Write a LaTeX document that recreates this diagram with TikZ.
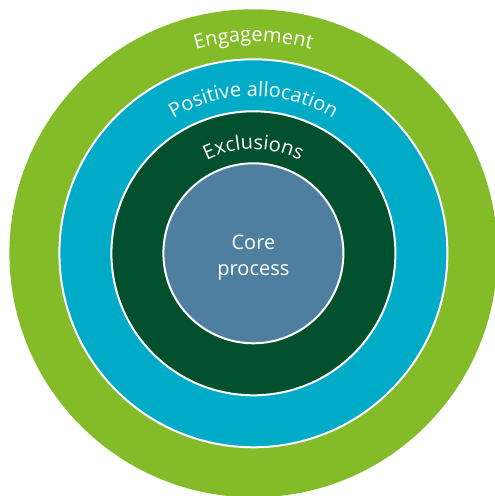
\documentclass[tikz,border=0pt]{standalone}
\usepackage{fontspec}
\setmainfont{Open Sans}
\usetikzlibrary{calc,decorations.text}

\definecolor{ringgreen}{RGB}{132,187,41}
\definecolor{ringblue}{RGB}{0,171,200}
\definecolor{ringdark}{RGB}{2,80,46}
\definecolor{coreblue}{RGB}{79,127,159}

\newcommand{\ringfont}{\fontsize{20}{26}\selectfont}

\begin{document}
\begin{tikzpicture}[x=1pt,y=1pt,
  ring/.style={circle, inner sep=0pt, outer sep=0pt},
  sepline/.style={draw=white, line width=2pt},
  arclabel/.style={decorate, decoration={text along path, text align=center,
      text color=white, text={|\ringfont|#1}}},
  corestyle/.style={font=\ringfont, text=white, align=center, inner sep=0pt}]

  % page frame
  \useasboundingbox (0,0) rectangle (495,496);
  \clip (0,0) rectangle (495,496);

  \coordinate (C) at (253.4,242.7);

  % concentric rings, outermost first
  \node[ring, fill=ringgreen, minimum size=488] (engagement) at (C) {};
  \node[ring, fill=ringblue, sepline, minimum size=388] (allocation) at (C) {};
  \node[ring, fill=ringdark, sepline, minimum size=284] (exclusions) at (C) {};
  \node[ring, fill=coreblue, sepline, minimum size=180] (core) at (C) {};

  % ring titles set along arcs over the top
  \path[arclabel=Engagement]
    ($(C)+(180:212)$) arc[start angle=180, end angle=0, radius=212];
  \path[arclabel=Positive allocation]
    ($(C)+(180:157)$) arc[start angle=180, end angle=0, radius=157];
  \path[arclabel=Exclusions]
    ($(C)+(180:104)$) arc[start angle=180, end angle=0, radius=104];

  % centre label
  \node[corestyle] (corelabel) at ([yshift=-4pt]core.center) {Core\\process};
\end{tikzpicture}
\end{document}
